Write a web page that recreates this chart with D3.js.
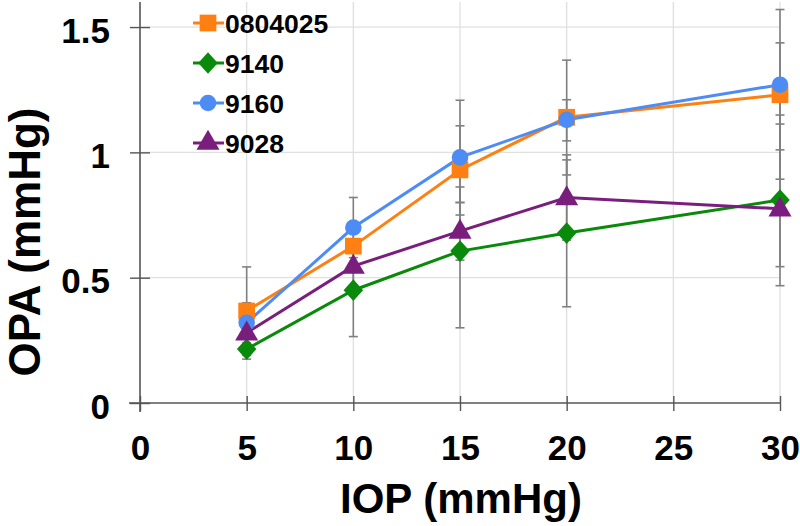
<!DOCTYPE html>
<html><head><meta charset="utf-8">
<script src="https://cdn.jsdelivr.net/npm/d3@7"></script>
<style>body{margin:0;background:#fff;} svg{display:block;}</style>
</head><body>
<svg id="chart" width="800" height="526"></svg>
<script>
const xValues = [5, 10, 15, 20, 30];
const seriesNames = ["0804025", "9140", "9160", "9028"];
const seriesColors = ["#FF8012", "#0A8A0A", "#4D8BF5", "#7A1E7E"];
const seriesShapes = ["square", "diamond", "circle", "triangle"];
const valsOrange = [0.367, 0.626, 0.93, 1.14, 1.23];
const valsGreen  = [0.215, 0.45, 0.606, 0.678, 0.81];
const valsBlue   = [0.32, 0.70, 0.98, 1.13, 1.27];
const valsPurple = [0.28, 0.546, 0.686, 0.82, 0.775];
// error bar bounds (upper / lower) per series
const hiOrange = [0.543, 0.70, 1.106, 1.21, 1.437];
const loOrange = [0.19, 0.55, 0.80, 1.046, 1.01];
const hiGreen  = [0.255, 0.63, 0.862, 0.97, 1.149];
const loGreen  = [0.175, 0.265, 0.30, 0.384, 0.468];
const hiBlue   = [0.40, 0.82, 1.208, 1.368, 1.57];
const loBlue   = [0.24, 0.58, 0.75, 0.91, 0.893];
const hiPurple = [0.33, 0.62, 0.80, 0.99, 1.113];
const loPurple = [0.23, 0.47, 0.57, 0.65, 0.544];
const xTicks = [0, 5, 10, 15, 20, 25, 30];
const yTicks = [0, 0.5, 1, 1.5];
const yTickLabels = ["0", "0.5", "1", "1.5"];
const xTitle = "IOP (mmHg)";
const yTitle = "OPA (mmHg)";

const seriesVals = [valsOrange, valsGreen, valsBlue, valsPurple];
const seriesHi = [hiOrange, hiGreen, hiBlue, hiPurple];
const seriesLo = [loOrange, loGreen, loBlue, loPurple];

const svg = d3.select("#chart");
const x = d3.scaleLinear().domain([0, 30]).range([140, 780]);
const y = d3.scaleLinear().domain([0, 1.6]).range([403, 2]);
const font = "'Liberation Sans', Arial, sans-serif";

// gridlines
const grid = svg.append("g");
grid.selectAll("line.v").data(xTicks.filter(d => d > 0)).join("line")
  .attr("x1", d => x(d)).attr("x2", d => x(d))
  .attr("y1", y(1.6)).attr("y2", y(0))
  .attr("stroke", "#e0e0e0").attr("stroke-width", 1.3);
grid.selectAll("line.h").data(yTicks.filter(d => d > 0)).join("line")
  .attr("x1", x(0)).attr("x2", x(30))
  .attr("y1", d => y(d)).attr("y2", d => y(d))
  .attr("stroke", "#e0e0e0").attr("stroke-width", 1.3);

// axes
const xAxis = svg.append("g").attr("transform", `translate(0,${y(0)})`)
  .call(d3.axisBottom(x).tickValues(xTicks).tickSize(8).tickFormat(d3.format("d")));
xAxis.select(".domain").remove();
xAxis.append("line").attr("x1", x(0) - 11).attr("x2", x(30)).attr("y1", 0).attr("y2", 0)
  .attr("stroke", "#555").attr("stroke-width", 1.6);
xAxis.selectAll(".tick line").attr("y1", -7).attr("y2", 8).attr("stroke", "#555").attr("stroke-width", 1.4);
xAxis.selectAll(".tick text").attr("y", 57).attr("dy", 0)
  .style("font-family", font).style("font-weight", "bold").style("font-size", "35px").attr("fill", "#000");

const yAxis = svg.append("g").attr("transform", `translate(${x(0)},0)`)
  .call(d3.axisLeft(y).tickValues(yTicks).tickSize(10).tickFormat((d, i) => yTickLabels[i]));
yAxis.select(".domain").remove();
yAxis.append("line").attr("x1", 0).attr("x2", 0).attr("y1", y(1.6)).attr("y2", y(0) + 9)
  .attr("stroke", "#555").attr("stroke-width", 1.6);
yAxis.selectAll(".tick line").attr("x1", -10).attr("x2", 10).attr("stroke", "#555").attr("stroke-width", 1.4);
yAxis.selectAll(".tick text").attr("x", -30).attr("dy", "0.43em")
  .style("font-family", font).style("font-weight", "bold").style("font-size", "35px").attr("fill", "#000");

// titles
svg.append("text").attr("x", 461).attr("y", 513).attr("text-anchor", "middle")
  .style("font-family", font).style("font-weight", "bold").style("font-size", "42px").text(xTitle);
svg.append("text").attr("transform", "translate(40,242) rotate(-90)").attr("text-anchor", "middle")
  .style("font-family", font).style("font-weight", "bold").style("font-size", "44px").text(yTitle);

// error bars
const eb = svg.append("g");
seriesVals.forEach((vals, si) => {
  xValues.forEach((xv, i) => {
    const g = eb.append("g").attr("stroke", "#808080").attr("stroke-width", 1.6);
    g.append("line").attr("x1", x(xv)).attr("x2", x(xv)).attr("y1", y(seriesHi[si][i])).attr("y2", y(seriesLo[si][i]));
    [seriesHi[si][i], seriesLo[si][i]].forEach(v => {
      g.append("line").attr("x1", x(xv) - 4.5).attr("x2", x(xv) + 4.5).attr("y1", y(v)).attr("y2", y(v));
    });
  });
});

function symbolFor(shape) {
  if (shape === "square") return d3.symbol().type(d3.symbolSquare).size(280);
  if (shape === "diamond") return d3.symbol().type(d3.symbolDiamond2).size(300);
  if (shape === "circle") return d3.symbol().type(d3.symbolCircle).size(215);
  return d3.symbol().type(d3.symbolTriangle).size(230);
}

const line = d3.line().x(d => x(d[0])).y(d => y(d[1]));
const order = [0, 1, 2, 3];
order.forEach(si => {
  const pts = xValues.map((xv, i) => [xv, seriesVals[si][i]]);
  svg.append("path").attr("d", line(pts)).attr("fill", "none")
    .attr("stroke", seriesColors[si]).attr("stroke-width", 3);
});
order.forEach(si => {
  const pts = xValues.map((xv, i) => [xv, seriesVals[si][i]]);
  const sym = symbolFor(seriesShapes[si]);
  svg.append("g").selectAll("path").data(pts).join("path")
    .attr("transform", d => `translate(${x(d[0])},${y(d[1]) + (seriesShapes[si] === "triangle" ? 1 : 0)})${seriesShapes[si]==="diamond" ? " scale(0.9,1)" : ""}`)
    .attr("d", sym).attr("fill", seriesColors[si]);
});

// legend
const legend = svg.append("g");
seriesNames.forEach((name, i) => {
  const cy = 23 + i * 40;
  legend.append("line").attr("x1", 193).attr("x2", 224).attr("y1", cy).attr("y2", cy)
    .attr("stroke", seriesColors[i]).attr("stroke-width", 3);
  legend.append("path").attr("transform", `translate(208,${cy})${seriesShapes[i]==="diamond" ? " scale(0.9,1)" : ""}`)
    .attr("d", symbolFor(seriesShapes[i])).attr("fill", seriesColors[i]);
  legend.append("text").attr("x", 225).attr("y", cy).attr("dy", "0.36em")
    .style("font-family", font).style("font-weight", "bold").style("font-size", "26.5px").text(name);
});
</script>
</body></html>
